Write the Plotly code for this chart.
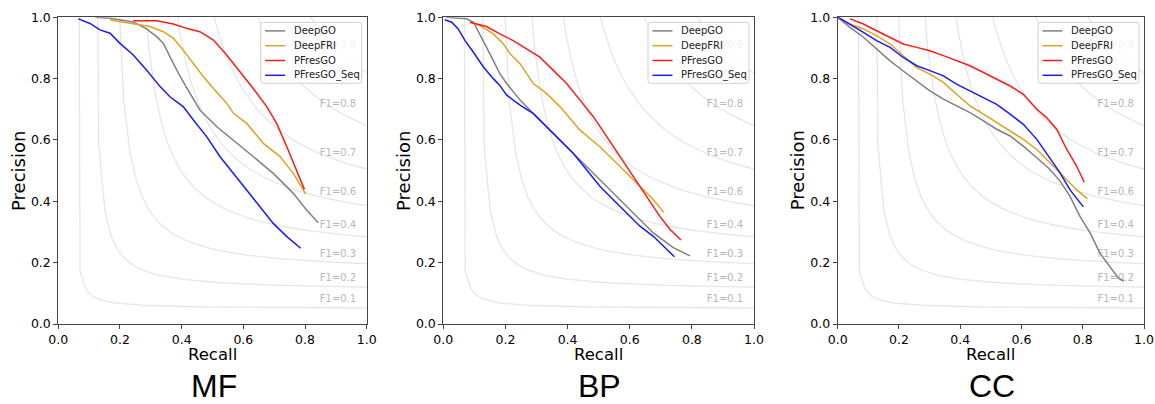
import numpy as np
import plotly.graph_objects as go

# ---------------- data ----------------
panels = ["MF", "BP", "CC"]
methods = ["DeepGO", "DeepFRI", "PFresGO", "PFresGO_Seq"]
colors = {"DeepGO": "#808080", "DeepFRI": "#DAA520", "PFresGO": "#FF1A1A", "PFresGO_Seq": "#1A1AFF"}

# MF
mf_deepgo_r = [0.12, 0.168, 0.243, 0.286, 0.319, 0.341, 0.362, 0.395, 0.427, 0.459, 0.514, 0.568, 0.632, 0.697, 0.762, 0.805, 0.843]
mf_deepgo_p = [1.0, 0.997, 0.985, 0.962, 0.937, 0.915, 0.872, 0.807, 0.752, 0.698, 0.643, 0.600, 0.546, 0.491, 0.426, 0.372, 0.330]
mf_deepfri_r = [0.168, 0.243, 0.297, 0.341, 0.373, 0.405, 0.438, 0.470, 0.503, 0.546, 0.568, 0.611, 0.665, 0.719, 0.762, 0.802]
mf_deepfri_p = [0.991, 0.980, 0.970, 0.953, 0.932, 0.893, 0.850, 0.807, 0.768, 0.720, 0.687, 0.654, 0.589, 0.546, 0.491, 0.424]
mf_pfresgo_r = [0.243, 0.319, 0.373, 0.416, 0.459, 0.503, 0.546, 0.589, 0.632, 0.676, 0.708, 0.741, 0.773, 0.798]
mf_pfresgo_p = [0.989, 0.989, 0.978, 0.964, 0.953, 0.926, 0.877, 0.823, 0.768, 0.709, 0.654, 0.578, 0.502, 0.439]
mf_seq_r = [0.065, 0.103, 0.135, 0.168, 0.200, 0.243, 0.286, 0.330, 0.362, 0.405, 0.438, 0.481, 0.524, 0.568, 0.611, 0.654, 0.697, 0.741, 0.786]
mf_seq_p = [0.995, 0.980, 0.959, 0.948, 0.915, 0.877, 0.828, 0.774, 0.741, 0.709, 0.665, 0.611, 0.546, 0.491, 0.437, 0.383, 0.328, 0.285, 0.247]

# BP
bp_deepgo_r = [0.01, 0.075, 0.097, 0.118, 0.139, 0.161, 0.182, 0.204, 0.247, 0.300, 0.354, 0.418, 0.483, 0.547, 0.612, 0.676, 0.740, 0.794]
bp_deepgo_p = [1.0, 0.995, 0.984, 0.946, 0.903, 0.859, 0.816, 0.784, 0.730, 0.676, 0.622, 0.557, 0.492, 0.427, 0.362, 0.297, 0.249, 0.222]
bp_deepfri_r = [0.086, 0.118, 0.161, 0.193, 0.215, 0.247, 0.290, 0.333, 0.376, 0.440, 0.504, 0.569, 0.633, 0.676, 0.710]
bp_deepfri_p = [0.984, 0.973, 0.946, 0.914, 0.881, 0.849, 0.784, 0.751, 0.708, 0.632, 0.578, 0.514, 0.449, 0.405, 0.364]
bp_pfresgo_r = [0.086, 0.139, 0.182, 0.225, 0.268, 0.311, 0.354, 0.397, 0.440, 0.483, 0.526, 0.569, 0.612, 0.655, 0.697, 0.730, 0.765]
bp_pfresgo_p = [0.984, 0.970, 0.946, 0.924, 0.897, 0.870, 0.827, 0.784, 0.730, 0.676, 0.611, 0.546, 0.481, 0.416, 0.351, 0.308, 0.274]
bp_seq_r = [0.005, 0.027, 0.048, 0.070, 0.097, 0.129, 0.161, 0.182, 0.204, 0.247, 0.290, 0.333, 0.376, 0.418, 0.461, 0.504, 0.547, 0.590, 0.633, 0.676, 0.719, 0.744]
bp_seq_p = [0.992, 0.984, 0.962, 0.924, 0.886, 0.838, 0.800, 0.778, 0.746, 0.714, 0.686, 0.643, 0.600, 0.557, 0.503, 0.449, 0.405, 0.362, 0.319, 0.286, 0.243, 0.219]

# CC
cc_deepgo_r = [0.0, 0.040, 0.084, 0.127, 0.171, 0.214, 0.258, 0.301, 0.345, 0.388, 0.432, 0.476, 0.519, 0.563, 0.606, 0.650, 0.693, 0.726, 0.758, 0.791, 0.824, 0.856, 0.889, 0.916, 0.935]
cc_deepgo_p = [1.0, 0.967, 0.935, 0.896, 0.858, 0.825, 0.793, 0.760, 0.733, 0.711, 0.689, 0.662, 0.635, 0.613, 0.580, 0.542, 0.504, 0.466, 0.417, 0.351, 0.297, 0.231, 0.188, 0.150, 0.140]
cc_deepfri_r = [0.002, 0.040, 0.084, 0.127, 0.171, 0.214, 0.258, 0.301, 0.345, 0.388, 0.432, 0.476, 0.519, 0.563, 0.606, 0.650, 0.693, 0.737, 0.780, 0.815]
cc_deepfri_p = [0.997, 0.978, 0.962, 0.940, 0.913, 0.875, 0.836, 0.815, 0.788, 0.749, 0.711, 0.684, 0.656, 0.629, 0.602, 0.569, 0.526, 0.482, 0.438, 0.408]
cc_pfresgo_r = [0.040, 0.084, 0.127, 0.171, 0.214, 0.258, 0.301, 0.345, 0.388, 0.432, 0.476, 0.519, 0.563, 0.606, 0.650, 0.682, 0.715, 0.748, 0.780, 0.805]
cc_pfresgo_p = [0.995, 0.978, 0.956, 0.935, 0.913, 0.902, 0.891, 0.875, 0.858, 0.842, 0.820, 0.798, 0.776, 0.749, 0.700, 0.673, 0.635, 0.569, 0.515, 0.462]
cc_seq_r = [0.002, 0.040, 0.084, 0.127, 0.171, 0.214, 0.258, 0.301, 0.345, 0.388, 0.432, 0.476, 0.519, 0.563, 0.606, 0.650, 0.693, 0.726, 0.758, 0.802]
cc_seq_p = [1.0, 0.978, 0.951, 0.924, 0.902, 0.869, 0.842, 0.826, 0.809, 0.782, 0.760, 0.738, 0.716, 0.684, 0.651, 0.602, 0.542, 0.493, 0.438, 0.382]

curves = {
    "MF": {"DeepGO": (mf_deepgo_r, mf_deepgo_p), "DeepFRI": (mf_deepfri_r, mf_deepfri_p),
           "PFresGO": (mf_pfresgo_r, mf_pfresgo_p), "PFresGO_Seq": (mf_seq_r, mf_seq_p)},
    "BP": {"DeepGO": (bp_deepgo_r, bp_deepgo_p), "DeepFRI": (bp_deepfri_r, bp_deepfri_p),
           "PFresGO": (bp_pfresgo_r, bp_pfresgo_p), "PFresGO_Seq": (bp_seq_r, bp_seq_p)},
    "CC": {"DeepGO": (cc_deepgo_r, cc_deepgo_p), "DeepFRI": (cc_deepfri_r, cc_deepfri_p),
           "PFresGO": (cc_pfresgo_r, cc_pfresgo_p), "PFresGO_Seq": (cc_seq_r, cc_seq_p)},
}

# iso-F1 reference curves
f_scores = np.linspace(0.1, 0.9, num=8)
iso_x = np.linspace(0.01, 1, 50)
tick_vals = [0.0, 0.2, 0.4, 0.6, 0.8, 1.0]
tick_text = ["0.0", "0.2", "0.4", "0.6", "0.8", "1.0"]

# ---------------- layout geometry (pixels) ----------------
W, H = 1155, 404
ax_left = [58.3, 443.3, 837.7]
ax_right = [366.7, 754.0, 1144.0]
ax_top, ax_bottom = 17.3, 324.0


def px(xp):
    return xp / W


def py(yp):
    return (H - yp) / H


FONT = "DejaVu Sans"
fig = go.Figure()
annotations = []
shapes = []

for i, panel in enumerate(panels):
    sfx = "" if i == 0 else str(i + 1)
    xa, ya = "x" + sfx, "y" + sfx

    labels_y = []
    labels_t = []
    for f in f_scores:
        y = f * iso_x / (2 * iso_x - f)
        m = y >= 0
        fig.add_trace(go.Scatter(x=iso_x[m], y=y[m], mode="lines", xaxis=xa, yaxis=ya,
                                 line=dict(color="#e6e6e6", width=1.3), showlegend=False,
                                 hoverinfo="skip"))
        labels_y.append(float(y[45]) + 0.028)
        labels_t.append("F1={0:0.1f}".format(f))
    fig.add_trace(go.Scatter(x=[0.848] * len(labels_y), y=labels_y, text=labels_t, mode="text",
                             textposition="middle right", xaxis=xa, yaxis=ya, showlegend=False,
                             textfont=dict(family=FONT, size=10, color="#b8b8b8"),
                             hoverinfo="skip", cliponaxis=False))

    for mth in methods:
        r, p = curves[panel][mth]
        fig.add_trace(go.Scatter(x=r, y=p, mode="lines", name=mth, xaxis=xa, yaxis=ya,
                                 line=dict(color=colors[mth], width=1.5), showlegend=False))

    axis_common = dict(range=[0, 1], showgrid=False, zeroline=False, showline=True, mirror=True,
                       linecolor="#444444", linewidth=1, ticks="outside", ticklen=4,
                       tickcolor="#444444", tickvals=tick_vals, ticktext=tick_text,
                       automargin=False,
                       tickfont=dict(family=FONT, size=12.5, color="black"))
    fig.layout["xaxis" + sfx] = dict(domain=[px(ax_left[i]), px(ax_right[i])], anchor=ya, **axis_common)
    fig.layout["yaxis" + sfx] = dict(domain=[py(ax_bottom), py(ax_top)], anchor=xa, **axis_common)

    # hand-drawn legend box (matplotlib style)
    lr = ax_right[i] - 5
    ll = lr - 101
    lt = ax_top + 5
    lb = lt + 61
    rr = 3
    path = ("M {a},{b} L {c},{b} Q {r},{b} {r},{d} L {r},{e} Q {r},{f} {c},{f} "
            "L {a},{f} Q {l},{f} {l},{e} L {l},{d} Q {l},{b} {a},{b} Z").format(
        a=px(ll + rr), c=px(lr - rr), r=px(lr), l=px(ll),
        b=py(lt), d=py(lt + rr), e=py(lb - rr), f=py(lb))
    shapes.append(dict(type="path", path=path, xref="paper", yref="paper", layer="above",
                       fillcolor="rgba(255,255,255,0.8)", line=dict(color="#d0d0d0", width=1)))
    for k, mth in enumerate(methods):
        yc = lt + 8.6 + k * 14.8
        shapes.append(dict(type="line", xref="paper", yref="paper", layer="above",
                           x0=px(ll + 4.5), x1=px(ll + 24.5), y0=py(yc), y1=py(yc),
                           line=dict(color=colors[mth], width=1.5)))
        annotations.append(dict(x=px(ll + 31), y=py(yc), xref="paper", yref="paper", text=mth,
                                showarrow=False, xanchor="left", yanchor="middle",
                                font=dict(family=FONT, size=10, color="#222222")))

    cx = (ax_left[i] + ax_right[i]) / 2
    annotations.append(dict(x=px(cx), y=py(354.5), xref="paper", yref="paper", text="Recall",
                            showarrow=False, xanchor="center", yanchor="middle",
                            font=dict(family=FONT, size=16.5, color="black")))
    annotations.append(dict(x=px(ax_left[i] - 40), y=py((ax_top + ax_bottom) / 2), xref="paper",
                            yref="paper", text="Precision", textangle=-90, showarrow=False,
                            xanchor="center", yanchor="middle",
                            font=dict(family=FONT, size=18, color="black")))
    annotations.append(dict(x=px(cx + 1), y=py(386), xref="paper", yref="paper", text=panel,
                            showarrow=False, xanchor="center", yanchor="middle",
                            font=dict(family="Liberation Sans, Arial", size=32, color="black")))

fig.update_layout(width=W, height=H, margin=dict(l=0, r=0, t=0, b=0), showlegend=False,
                  paper_bgcolor="white", plot_bgcolor="white",
                  annotations=annotations, shapes=shapes)

# remove the page's default 8px body margin so the figure sits at the window's top-left corner
fig.write_html("out.html", config={"displayModeBar": False},
               post_script="document.body.style.margin='0';document.body.style.overflow='hidden';")
